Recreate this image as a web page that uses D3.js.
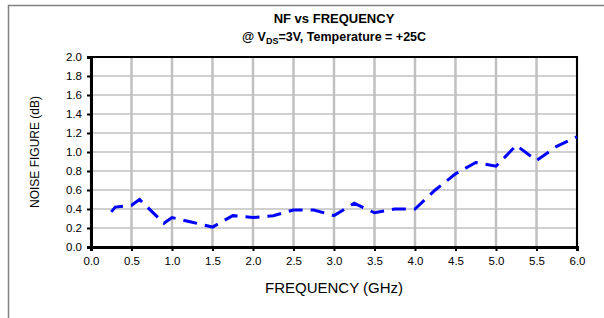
<!DOCTYPE html>
<html>
<head>
<meta charset="utf-8">
<script src="https://cdn.jsdelivr.net/npm/d3@7"></script>
<style>
  body { margin: 0; background: #fff; }
  text { font-family: Arial, "Liberation Sans", sans-serif; fill: #000; }
</style>
</head>
<body>
<script>
(function() {

    // data
    var freq = [0.25, 0.3, 0.5, 0.6, 0.9, 1.0, 1.25, 1.5, 1.75, 2.0, 2.25, 2.5, 2.75, 3.0,
                3.25, 3.5, 3.75, 4.0, 4.25, 4.5, 4.75, 5.0, 5.25, 5.5, 5.75, 6.0];
    var nf = [0.37, 0.42, 0.44, 0.50, 0.25, 0.31, 0.26, 0.21, 0.33, 0.31, 0.33, 0.39, 0.39, 0.33,
              0.46, 0.36, 0.40, 0.40, 0.60, 0.77, 0.89, 0.85, 1.07, 0.91, 1.06, 1.16];
    var xTicks = [0, 0.5, 1, 1.5, 2, 2.5, 3, 3.5, 4, 4.5, 5, 5.5, 6];
    var yTicks = [0, 0.2, 0.4, 0.6, 0.8, 1.0, 1.2, 1.4, 1.6, 1.8, 2.0];

    var width = 604, height = 318;
    var margin = { top: 57, right: 27, bottom: 71, left: 91 };
    var w = width - margin.left - margin.right,
        h = height - margin.top - margin.bottom;

    var svg = d3.select("body")
        .append("svg")
        .attr("width", width)
        .attr("height", height);

    // outer frame (only left and top edges are visible)
    svg.append("path")
        .attr("d", "M8.5," + height + "V5.5H" + width)
        .attr("fill", "none")
        .attr("stroke", "#808080")
        .attr("stroke-width", 1.5);

    var x = d3.scaleLinear().domain([0, 6]).range([0, w]);
    var y = d3.scaleLinear().domain([0, 2]).range([h, 0]);

    var g = svg.append("g")
        .attr("transform", "translate(" + margin.left + "," + margin.top + ")");

    // grid
    g.selectAll(".hgrid")
        .data(yTicks)
        .enter().append("line")
        .attr("x1", 0).attr("x2", w)
        .attr("y1", function(d) { return y(d); })
        .attr("y2", function(d) { return y(d); })
        .attr("stroke", "#c0c0c0")
        .attr("stroke-width", 1.5);

    g.selectAll(".vgrid")
        .data(xTicks)
        .enter().append("line")
        .attr("x1", function(d) { return x(d); })
        .attr("x2", function(d) { return x(d); })
        .attr("y1", 0).attr("y2", h)
        .attr("stroke", "#c0c0c0")
        .attr("stroke-width", 2.5);

    // plot border
    g.append("rect")
        .attr("width", w)
        .attr("height", h)
        .attr("fill", "none")
        .attr("stroke", "#000")
        .attr("stroke-width", 2);

    // axes
    var xAxis = g.append("g")
        .attr("transform", "translate(0," + h + ")")
        .call(d3.axisBottom(x).tickValues(xTicks).tickSize(4).tickPadding(6)
            .tickFormat(d3.format(".1f")));

    var yAxis = g.append("g")
        .call(d3.axisLeft(y).tickValues(yTicks).tickSize(4).tickPadding(5)
            .tickFormat(d3.format(".1f")));

    [xAxis, yAxis].forEach(function(a) {
        a.select(".domain").attr("stroke", "#000").attr("stroke-width", 3);
        a.selectAll(".tick line").attr("stroke", "#000").attr("stroke-width", 2);
        a.selectAll(".tick text")
            .style("font-family", "Arial, 'Liberation Sans', sans-serif")
            .style("font-size", "11.5px")
            .attr("fill", "#000");
    });

    // NF line
    var line = d3.line()
        .x(function(d, i) { return x(freq[i]); })
        .y(function(d) { return y(d); });

    g.append("path")
        .datum(nf)
        .attr("d", line)
        .attr("fill", "none")
        .attr("stroke", "#0000ff")
        .attr("stroke-width", 3)
        .attr("stroke-dasharray", "14,8");

    // titles
    var cx = margin.left + w / 2;

    svg.append("text")
        .attr("x", cx)
        .attr("y", 23)
        .attr("text-anchor", "middle")
        .style("font-size", "13px")
        .style("font-weight", "bold")
        .text("NF vs FREQUENCY");

    var t2 = svg.append("text")
        .attr("x", cx)
        .attr("y", 41)
        .attr("text-anchor", "middle")
        .style("font-size", "12.5px")
        .style("font-weight", "bold");
    t2.append("tspan").text("@ V");
    t2.append("tspan").attr("dy", 3).style("font-size", "9px").text("DS");
    t2.append("tspan").attr("dy", -3).text("=3V, Temperature = +25C");

    svg.append("text")
        .attr("x", cx)
        .attr("y", 293)
        .attr("text-anchor", "middle")
        .style("font-size", "15px")
        .text("FREQUENCY (GHz)");

    svg.append("text")
        .attr("transform", "translate(39," + (margin.top + h / 2) + ") rotate(-90)")
        .attr("text-anchor", "middle")
        .style("font-size", "12px")
        .text("NOISE FIGURE (dB)");

})();
</script>
</body>
</html>
